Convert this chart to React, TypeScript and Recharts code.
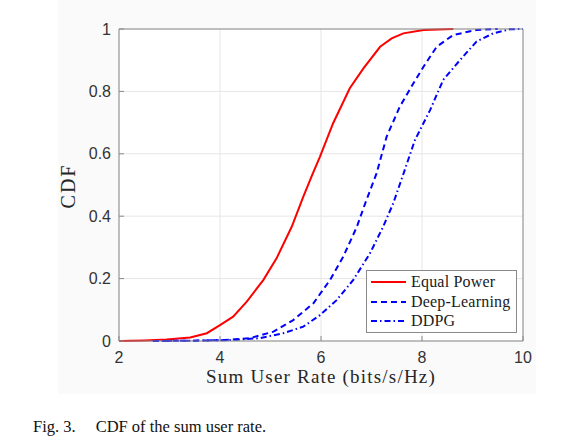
import { LineChart, Line, XAxis, YAxis, CartesianGrid } from 'recharts';

// CDF curves
const eqX = [2.0, 2.5, 2.94, 3.41, 3.74, 4.0, 4.26, 4.53, 4.86, 5.12, 5.42, 5.65, 5.82, 5.98, 6.24, 6.57, 6.84, 7.17, 7.4, 7.63, 8.03, 8.62];
const eqY = [0, 0.002, 0.005, 0.011, 0.025, 0.051, 0.078, 0.126, 0.196, 0.265, 0.366, 0.463, 0.53, 0.591, 0.698, 0.81, 0.874, 0.943, 0.97, 0.986, 0.997, 1.0];

const dlX = [2.67, 3.5, 4.1, 4.59, 5.06, 5.45, 5.85, 6.18, 6.44, 6.71, 6.9, 7.1, 7.3, 7.56, 7.83, 8.03, 8.29, 8.62, 9.08, 9.5];
const dlY = [0, 0.001, 0.003, 0.009, 0.03, 0.067, 0.121, 0.196, 0.27, 0.366, 0.452, 0.537, 0.655, 0.751, 0.826, 0.879, 0.943, 0.981, 0.997, 1.0];

const ddX = [2.67, 3.5, 4.2, 4.79, 5.25, 5.65, 5.98, 6.31, 6.64, 6.97, 7.23, 7.43, 7.62, 7.86, 8.16, 8.42, 8.75, 9.08, 9.41, 9.74, 10];
const ddY = [0, 0.001, 0.003, 0.009, 0.025, 0.046, 0.083, 0.131, 0.196, 0.281, 0.366, 0.441, 0.53, 0.644, 0.74, 0.837, 0.9, 0.96, 0.986, 0.999, 1.0];

const xTicks = [2, 4, 6, 8, 10];
const yTicks = [0, 0.2, 0.4, 0.6, 0.8, 1];

const seriesNames = ['Equal Power', 'Deep-Learning', 'DDPG'];

const toPoints = (xs: number[], ys: number[]) => xs.map((x, i) => ({ x, y: ys[i] }));

const eqData = toPoints(eqX, eqY);
const dlData = toPoints(dlX, dlY);
const ddData = toPoints(ddX, ddY);

const serif = '"Liberation Serif", "DejaVu Serif", serif';
const sans = '"Liberation Sans", Arial, sans-serif';
const axisColor = '#8a8a8a';

const legendItems = [
  { name: seriesNames[0], color: '#ff0000', dash: undefined },
  { name: seriesNames[1], color: '#0000ff', dash: '6 4' },
  { name: seriesNames[2], color: '#0000ff', dash: '6 3 1.5 3' },
];

function LegendBox() {
  return (
    <div
      style={{
        position: 'absolute',
        left: 366,
        top: 270,
        border: '1px solid #8a8a8a',
        background: '#fff',
        padding: '1px 3px 1px 3px',
        fontFamily: serif,
        fontSize: 16,
        letterSpacing: 0.2,
        color: '#1a1a1a',
        width: 151,
        boxSizing: 'border-box',
        whiteSpace: 'nowrap',
      }}
    >
      {legendItems.map((it) => (
        <div key={it.name} style={{ display: 'flex', alignItems: 'center', height: 19.7 }}>
          <svg width={37} height={10} style={{ marginRight: 4, flexShrink: 0 }}>
            <line x1={1} y1={5} x2={36} y2={5} stroke={it.color} strokeWidth={2} strokeDasharray={it.dash} />
          </svg>
          <span>{it.name}</span>
        </div>
      ))}
    </div>
  );
}

export default function App() {
  return (
    <div style={{ position: 'absolute', left: 0, top: 0, width: 561, height: 448, background: '#fff' }}>
      <div style={{ position: 'absolute', left: 58, top: 0, width: 478, height: 394, background: '#fafafa' }} />
      <div style={{ position: 'absolute', left: 0, top: 0 }}>
        <LineChart width={561} height={448} margin={{ top: 28, right: 37, bottom: 106, left: 118 }}>
          <CartesianGrid stroke="#e6e6e6" fill="#fff" />
          <XAxis
            dataKey="x"
            type="number"
            domain={[2, 10]}
            ticks={xTicks}
            allowDuplicatedCategory={false}
            height={1}
            stroke={axisColor}
            tickSize={-5}
            tickMargin={16}
            tick={{ fontFamily: sans, fontSize: 16, fill: '#333' }}
          />
          <XAxis
            xAxisId="top"
            orientation="top"
            dataKey="x"
            type="number"
            domain={[2, 10]}
            ticks={xTicks}
            height={1}
            stroke={axisColor}
            tickSize={-5}
            tickFormatter={() => ''}
          />
          <YAxis
            type="number"
            domain={[0, 1]}
            ticks={yTicks}
            width={1}
            stroke={axisColor}
            tickSize={-5}
            tickMargin={13}
            tickFormatter={(v: number) => String(Number(v.toFixed(1)))}
            tick={{ fontFamily: sans, fontSize: 16, fill: '#333' }}
          />
          <YAxis
            yAxisId="right"
            orientation="right"
            type="number"
            domain={[0, 1]}
            ticks={yTicks}
            width={1}
            stroke={axisColor}
            tickSize={-5}
            tickFormatter={() => ''}
          />
          <Line data={eqData} dataKey="y" name={seriesNames[0]} stroke="#ff0000" strokeWidth={2} dot={false} type="linear" isAnimationActive={false} />
          <Line data={dlData} dataKey="y" name={seriesNames[1]} stroke="#0000ff" strokeWidth={2} strokeDasharray="6 4" dot={false} type="linear" isAnimationActive={false} />
          <Line data={ddData} dataKey="y" name={seriesNames[2]} stroke="#0000ff" strokeWidth={2} strokeDasharray="6 3 1.5 3" dot={false} type="linear" isAnimationActive={false} />
        </LineChart>
      </div>
      <LegendBox />
      <div
        style={{
          position: 'absolute',
          left: 119,
          width: 404,
          top: 370,
          textAlign: 'center',
          fontFamily: serif,
          fontSize: 19,
          letterSpacing: 1.2,
          color: '#262626',
          lineHeight: '14px',
          whiteSpace: 'nowrap',
        }}
      >
        Sum User Rate (bits/s/Hz)
      </div>
      <div
        style={{
          position: 'absolute',
          left: 68,
          top: 186,
          transform: 'translate(-50%, -50%) rotate(-90deg)',
          fontFamily: serif,
          fontSize: 20,
          letterSpacing: 2,
          color: '#262626',
          whiteSpace: 'nowrap',
        }}
      >
        CDF
      </div>
      <div
        style={{
          position: 'absolute',
          left: 33,
          top: 417,
          fontFamily: serif,
          fontSize: 16.5,
          color: '#111',
          whiteSpace: 'nowrap',
        }}
      >
        <span>Fig. 3.</span>
        <span style={{ marginLeft: 20 }}>CDF of the sum user rate.</span>
      </div>
    </div>
  );
}
